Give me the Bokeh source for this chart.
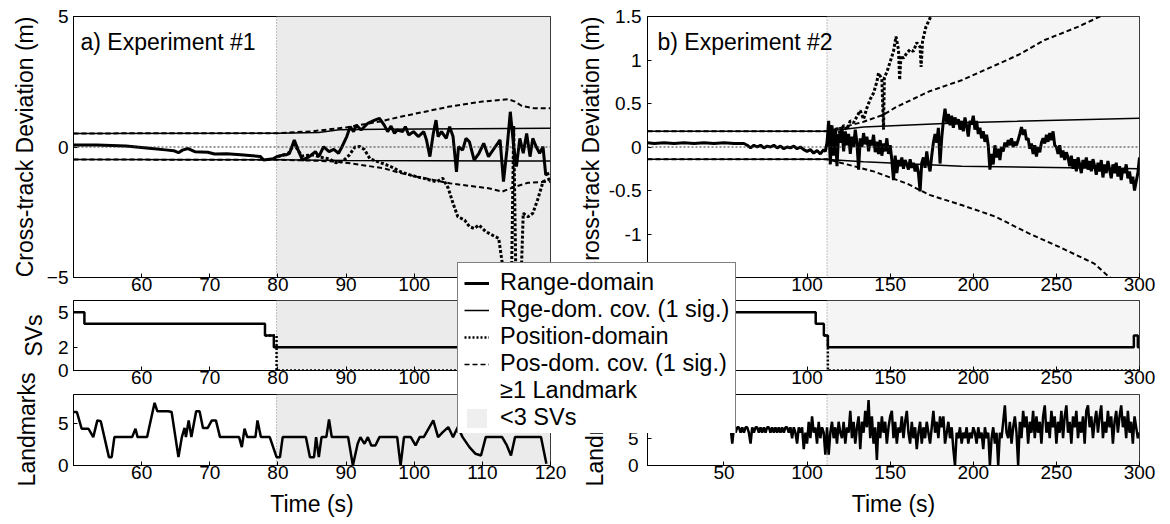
import math
from bokeh.plotting import figure
from bokeh.layouts import row, column
from bokeh.models import (Range1d, FixedTicker, BoxAnnotation, Span, Label,
                          Legend, LegendItem, ColumnDataSource)
from bokeh.embed import file_html
from bokeh.resources import INLINE

FONT = "Liberation Sans"

# ============================ DATA ============================
# ---------------- Experiment #1 (panel a) ----------------
a_xlim = (50, 120)
a_xticks = [60, 70, 80, 90, 100, 110, 120]
a_lowsv_start = 79.8

a_range_t = [50.0, 53.4, 57.7, 61.1, 63.5, 64.7, 65.4, 66.0, 66.8, 67.8, 69.7, 70.7, 72.5, 74.5,
             77.4, 77.9, 79.3, 79.8, 80.7, 81.2, 81.7, 82.4, 83.1, 83.6, 84.6, 85.5, 86.0, 86.7,
             87.5, 88.2, 88.9, 89.4, 90.1, 90.6, 91.1, 91.5, 92.2, 93.2, 94.2, 94.9, 95.6, 96.1,
             96.6, 97.1, 97.5, 98.3, 98.7, 99.2, 99.9, 100.6, 101.4, 101.8, 102.3, 102.8, 103.2,
             103.5, 104.0, 104.7, 105.2, 105.7, 106.2, 106.5, 107.1, 107.6, 108.1, 108.8, 109.5,
             110.2, 110.9, 111.9, 112.6, 113.1, 113.6, 114.1, 114.6, 115.0, 115.5, 116.0, 116.5,
             117.0, 117.4, 117.9, 118.4, 118.9, 119.3, 119.8]
a_range_v = [0.08, 0.08, 0.04, -0.05, -0.11, -0.14, -0.22, -0.12, -0.06, -0.18, -0.20, -0.27, -0.26, -0.30,
             -0.36, -0.50, -0.45, -0.37, -0.31, -0.30, -0.24, 0.27, -0.20, -0.50, -0.37, -0.18, -0.37, 0.01,
             -0.18, -0.09, -0.24, 0.01, 0.40, 0.78, 0.59, 0.84, 0.65, 0.91, 1.03, 1.10, 0.84, 0.59,
             0.80, 0.52, 0.65, 0.59, 0.78, 0.46, 0.59, 0.40, 0.59, 0.27, -0.37, 0.52, 1.03,
             0.40, 0.59, 0.33, 0.78, 0.40, -0.95, 0.01, -0.12, 0.33, 0.20, -0.50, -0.24,
             0.14, -0.37, 0.01, 0.27, -1.33, -0.12, 1.35, 0.01, -0.75, 0.33, -0.24, 0.52,
             -0.37, 0.33, 0.01, -0.24, 0.01, -1.07, -1.00]

a_pos_t = [80.0, 81.5, 82.4, 83.5, 85.0, 86.5, 87.5, 88.5, 89.5, 90.5, 91.3, 92.0, 92.7, 93.5, 94.5,
           95.6, 97.0, 98.0, 99.4, 100.5, 101.4, 102.5, 103.3, 104.2, 105.0, 105.7, 106.4, 107.4,
           108.1, 108.8, 109.5, 110.5, 111.4, 112.4, 113.0, 113.4, 114.2, 114.6, 115.0, 115.5,
           116.0, 116.7, 117.4, 118.1, 118.9, 119.6, 120.0]
a_pos_v = [-0.37, -0.25, 0.10, -0.35, -0.30, -0.40, -0.45, -0.60, -0.55, -0.30, 0.00, 0.02, -0.10, -0.45, -0.55,
           -0.65, -0.80, -0.95, -1.07, -1.15, -1.20, -1.28, -1.33, -1.20, -1.58, -2.16, -2.67, -2.80,
           -3.05, -3.12, -2.99, -3.24, -3.37, -3.50, -4.60, -6.50, -6.50, 0.80, -6.50, -6.50,
           -2.54, -2.67, -2.54, -2.03, -1.33, -1.26, -1.20]

a_pcov_up_t = [50, 80, 85, 90, 95, 98, 100.4, 105.2, 110, 113.8, 114.8, 115.8, 117.7, 120]
a_pcov_up_v = [0.52, 0.53, 0.60, 0.75, 0.98, 1.16, 1.29, 1.55, 1.74, 1.83, 1.74, 1.57, 1.48, 1.48]
a_pcov_lo_t = [50, 80, 85, 88.4, 90.8, 95.6, 98, 100.4, 102.8, 105.2, 108.1, 110.9, 112.9, 114.8, 116.7, 119.6, 120]
a_pcov_lo_v = [-0.48, -0.49, -0.52, -0.56, -0.63, -0.82, -1.00, -1.14, -1.26, -1.39, -1.49, -1.58, -1.71, -1.52, -1.37, -1.33, -1.33]
a_rcov_up_t = [50, 80, 86, 89, 95, 120]
a_rcov_up_v = [0.52, 0.53, 0.56, 0.66, 0.68, 0.72]
a_rcov_lo_t = [50, 80, 90, 120]
a_rcov_lo_v = [-0.48, -0.49, -0.52, -0.54]

a_sv_t = [50, 51.6, 78.1, 79.4, 120]
a_sv_v = [5, 4, 3, 2, 2]
a_svpos_t = [78.1, 79.8, 120]
a_svpos_v = [3, 0, 0]

a_lm_t = [50.0, 50.5, 51.2, 52.2, 52.9, 53.5, 54.0, 55.2, 55.6, 56.0, 58.6, 59.1, 59.4, 60.8, 61.9,
          62.3, 63.9, 64.4, 65.4, 65.9, 66.3, 66.5, 66.9, 67.3, 68.0, 68.5, 69.0, 69.7, 70.3, 70.9,
          71.5, 74.3, 74.7, 75.1, 75.5, 76.7, 77.0, 77.5, 78.8, 79.8, 80.3, 80.7, 84.1, 84.7, 85.3,
          85.6, 86.0, 86.4, 87.1, 87.5, 87.9, 90.3, 91.0, 91.7, 92.1, 92.7, 93.2, 93.7, 94.3, 94.9,
          97.5, 98.0, 98.5, 99.5, 100.2, 100.8, 101.4, 102.8, 103.5, 104.2, 105.0, 105.7, 106.4,
          107.1, 108.1, 109.0, 109.8, 110.5, 112.9, 113.6, 114.2, 114.8, 117.9, 118.6, 119.4]
a_lm_v = [6.4, 6.4, 4.4, 4.4, 3.4, 5.4, 5.3, 1.0, 1.0, 3.4, 3.4, 4.4, 3.4, 3.4, 7.5,
          6.5, 6.5, 6.4, 1.0, 3.4, 4.5, 3.4, 5.4, 3.4, 6.5, 6.5, 4.5, 4.5, 5.4, 5.4,
          3.4, 3.4, 2.2, 4.4, 3.4, 3.4, 5.4, 3.4, 3.4, 1.0, 1.0, 3.4, 3.4, 1.0, 1.0,
          3.4, 1.0, 3.4, 3.4, 5.5, 3.4, 3.4, 0.0, 2.6, 3.4, 2.6, 3.4, 2.4, 2.4, 3.4,
          3.4, 0.0, 3.4, 3.4, 2.4, 3.4, 3.4, 5.4, 3.4, 4.0, 4.6, 3.4, 4.6,
          3.4, 2.2, 1.4, 1.2, 3.4, 3.4, 2.4, 1.2, 3.4, 3.4, 3.4, 0.2]

# ---------------- Experiment #2 (panel b) ----------------
b_xlim = (4, 300)
b_xticks = [50, 100, 150, 200, 250, 300]
b_lowsv_start = 112.0

b_range_t = [4, 8, 14, 20, 26, 32, 38, 44, 50, 56, 62, 64, 66, 68, 70, 72, 74, 76, 78, 80, 82, 84,
             86, 88, 90, 92, 94, 96, 98, 100, 102, 104, 106, 108, 110] + list(range(111, 301))
b_range_v = [0.05, 0.04, 0.05, 0.04, 0.05, 0.04, 0.05, 0.04, 0.05, 0.04, 0.04, 0.02, -0.01, 0.02, 0.00,
             0.02, -0.01, 0.01, 0.00, 0.02, -0.01, 0.01, -0.02, 0.00, -0.01, 0.01, -0.02, 0.00, -0.03,
             -0.05, -0.03, -0.07, -0.04, -0.08, -0.03,
             -0.05, 0.05, 0.30, -0.20, 0.25, -0.10, 0.20, -0.22, 0.15, 0.05,
             0.22, -0.05, 0.18, 0.02, 0.15, -0.08, 0.12, 0.00, 0.20, 0.05,
             -0.26, 0.10, 0.00, 0.16, 0.03, 0.12, -0.05, 0.08, 0.02, 0.14,
             -0.06, 0.06, -0.08, 0.08, -0.10, 0.04, -0.05, 0.10, -0.08, 0.02,
             -0.15, -0.38, -0.10, -0.30, -0.15, -0.22, -0.12, -0.25, -0.15, -0.20,
             -0.26, -0.14, -0.24, -0.18, -0.28, -0.20, -0.30, -0.51, -0.18, -0.12,
             -0.24, -0.05, -0.20, -0.28, -0.10, 0.05, 0.15, 0.05, 0.22, -0.19,
             0.10, 0.30, 0.44, 0.28, 0.38, 0.25, 0.36, 0.22, 0.34, 0.26,
             0.32, 0.20, 0.30, 0.18, 0.34, 0.24, 0.12, 0.30, 0.26, 0.36,
             0.20, 0.30, 0.15, 0.22, 0.10, 0.18, 0.06, 0.14, 0.02, -0.26,
             -0.08, -0.20, 0.02, -0.12, -0.02, -0.15, 0.00, -0.05, 0.05, 0.00,
             0.08, 0.02, 0.10, 0.00, 0.06, 0.02, 0.08, 0.15, 0.23, 0.14,
             0.20, 0.08, 0.10, -0.02, 0.04, -0.08, 0.02, -0.11, 0.00, -0.06,
             0.05, 0.10, 0.04, 0.14, 0.06, 0.16, 0.08, 0.18, 0.02, 0.00,
             -0.08, 0.02, -0.12, -0.04, -0.15, -0.06, -0.12, -0.22, -0.10, -0.25,
             -0.14, -0.28, -0.12, -0.20, -0.30, -0.15, -0.24, -0.12, -0.26, -0.16,
             -0.28, -0.14, -0.22, -0.32, -0.18, -0.28, -0.15, -0.35, -0.20, -0.30,
             -0.16, -0.26, -0.36, -0.20, -0.30, -0.18, -0.34, -0.22, -0.38, -0.24,
             -0.30, -0.20, -0.36, -0.28, -0.42, -0.34, -0.50, -0.40, -0.30, -0.12]

b_pos_t = [112, 114, 116, 118, 120, 122, 124, 126, 128, 130, 132, 134, 136, 138, 140,
           142, 143, 145, 146, 146.5, 148, 150, 152, 153.5, 155, 155.7, 156.5, 158, 160, 162,
           164, 166, 168, 168.6, 169.5, 171.5, 173.5, 175.5, 178, 185, 200, 250, 300]
b_pos_v = [0.00, 0.25, 0.10, 0.22, 0.15, 0.25, 0.20, 0.30, 0.28, 0.35, 0.42, 0.32, 0.45, 0.55, 0.62,
           0.75, 0.85, 0.78, 0.20, 0.80, 0.86, 0.98, 1.10, 1.27, 1.12, 0.77, 1.05, 1.02, 1.08, 1.12,
           1.10, 1.20, 1.15, 0.92, 1.22, 1.38, 1.46, 1.55, 1.70, 2.00, 2.50, 3.50, 4.50]

b_pcov_up_t = [4, 112, 120, 134, 145.8, 153.7, 173.6, 193.4, 213.3, 227.2, 243, 262.9, 280.7, 300]
b_pcov_up_v = [0.18, 0.18, 0.22, 0.29, 0.37, 0.46, 0.64, 0.77, 0.94, 1.06, 1.23, 1.38, 1.54, 1.70]
b_pcov_lo_t = [4, 112, 120, 130, 140, 150, 160, 173.6, 193.4, 213.3, 233.1, 253, 272.8, 282, 300]
b_pcov_lo_v = [-0.14, -0.14, -0.18, -0.23, -0.28, -0.35, -0.42, -0.55, -0.67, -0.80, -0.99, -1.16, -1.34, -1.50, -1.65]
b_rcov_up_t = [4, 112, 134, 193, 300]
b_rcov_up_v = [0.18, 0.18, 0.23, 0.28, 0.33]
b_rcov_lo_t = [4, 110, 134, 193, 300]
b_rcov_lo_v = [-0.14, -0.14, -0.17, -0.22, -0.25]

b_sv_t = [4, 105.2, 110.1, 112.5, 296.6, 299.0, 300]
b_sv_v = [5, 4, 3, 2, 3, 2, 2]
b_svpos_t = [110.1, 112.5, 300]
b_svpos_v = [3, 0, 0]

b_lm_t = list(range(39, 301))
b_lm_v = [7, 6, 7, 7, 6, 7, 6, 7, 7, 6,
          7, 6, 7, 6, 7, 7, 4, 7, 6, 7,
          7, 6, 7, 6, 7, 7, 6, 4, 7, 6,
          7, 7, 6, 7, 6, 7, 6, 7, 7, 6,
          7, 6, 7, 6, 7, 6, 7, 6, 7, 7,
          6, 7, 5, 7, 6, 4, 7, 6, 7, 3,
          6, 4,
          8, 5, 9, 6, 7, 4, 8, 5, 7, 6,
          2, 7, 2, 6, 8, 5, 7, 4, 8, 6,
          5, 8, 4, 7, 6, 10, 5, 8, 4, 7,
          9, 3, 8, 6, 10, 7, 12, 5, 9, 4,
          7, 1, 8, 5, 9, 6, 8, 4, 7, 9,
          10, 5, 8, 4, 7, 6, 9, 5, 8, 10,
          6, 4, 8, 5, 7, 3, 6, 8, 4, 7,
          5, 8, 6, 4, 7, 10, 6, 8, 5, 9,
          7, 9, 4, 6, 8, 5, 7, 3, 0, 6,
          5, 7, 4, 6, 5, 7, 4, 6, 5, 7,
          6, 4, 7, 5, 6, 3, 7, 5, 6, 0,
          5, 7, 4, 6, 0, 6, 5, 8, 11, 6,
          5, 8, 4, 7, 9, 6, 0, 8, 5, 10,
          7, 9, 4, 8, 6, 10, 5, 9, 6, 8,
          4, 9, 11, 6, 8, 5, 10, 7, 9, 4,
          8, 6, 10, 5, 9, 11, 6, 8, 4, 9,
          7, 10, 5, 8, 6, 9, 4, 10, 11, 7,
          9, 5, 8, 10, 6, 9, 11, 5, 8, 6,
          10, 7, 9, 4, 8, 10, 6, 9, 11, 7,
          9, 5, 10, 6, 8, 4, 9, 7, 5, 6]

legend_labels = ["Range-domain", "Rge-dom. cov. (1 sig.)", "Position-domain",
                 "Pos-dom. cov. (1 sig.)", "\u22651 Landmark", "<3 SVs"]

# ============================ STYLE ============================
SHADE_A = "#ebebeb"
SHADE_B = "#f5f5f5"
TICK_FS = "19px"
LABEL_FS = "23px"


def make_fig(xlim, ylim, w, h, bl, br, bt, bb, xticks, yticks, ylabel,
             ylab_std, ytick_std, xlabel=None, overrides=None):
    p = figure(width=w, height=h, x_range=Range1d(*xlim), y_range=Range1d(*ylim),
               output_backend="svg", toolbar_location=None,
               min_border_left=bl, min_border_right=br,
               min_border_top=bt, min_border_bottom=bb)
    p.grid.visible = False
    p.outline_line_color = "black"
    p.outline_line_width = 1
    p.outline_line_alpha = 1
    p.background_fill_color = "white"
    p.border_fill_color = "white"
    for ax in (p.xaxis[0], p.yaxis[0]):
        ax.major_tick_in = 4
        ax.major_tick_out = 0
        ax.minor_tick_in = 0
        ax.minor_tick_out = 0
        ax.axis_line_color = "black"
        ax.major_tick_line_color = "black"
        ax.major_label_text_font = FONT
        ax.major_label_text_font_size = TICK_FS
        ax.major_label_text_color = "black"
        ax.axis_label_text_font = FONT
        ax.axis_label_text_font_size = LABEL_FS
        ax.axis_label_text_font_style = "normal"
        ax.axis_label_text_color = "black"
    p.xaxis.ticker = FixedTicker(ticks=xticks)
    p.yaxis.ticker = FixedTicker(ticks=yticks)
    p.xaxis.major_label_standoff = 0
    p.yaxis.major_label_standoff = ytick_std
    if ylabel:
        p.yaxis.axis_label = ylabel
        p.yaxis.axis_label_standoff = ylab_std
    if overrides:
        p.yaxis.major_label_overrides = overrides
    if xlabel:
        p.xaxis.axis_label = xlabel
        p.xaxis.axis_label_standoff = 9
    return p


def shade(p, start, color):
    p.add_layout(BoxAnnotation(left=start, fill_color=color, fill_alpha=1,
                               line_color=None, level="underlay"))
    p.add_layout(Span(location=start, dimension="height", line_color="#8a8a8a",
                      line_width=1, line_dash="1 2", level="underlay"))


def zero_line(p):
    p.add_layout(Span(location=0, dimension="width", line_color="#303030",
                      line_width=1, line_dash="2 2"))


LW, RW = 566, 586          # column widths
H_TOP, H_SV, H_LM = 299, 94, 129
MAIN_H = H_TOP + H_SV + H_LM
PAGE_W = 8 + LW + RW

# ---------------- left column ----------------
pa = make_fig(a_xlim, (-5, 5), LW, H_TOP, 55, 24, 16, 22, a_xticks, [-5, 0, 5],
              "Cross-track Deviation (m)", 6, 5)
shade(pa, a_lowsv_start, SHADE_A)
zero_line(pa)
pa.line(a_rcov_up_t, a_rcov_up_v, line_width=1.5, color="black")
pa.line(a_rcov_lo_t, a_rcov_lo_v, line_width=1.5, color="black")
pa.line(a_pcov_up_t, a_pcov_up_v, line_width=2, color="black", line_dash="5 3")
pa.line(a_pcov_lo_t, a_pcov_lo_v, line_width=2, color="black", line_dash="5 3")
pa.line(a_pos_t, a_pos_v, line_width=3, color="black", line_dash="3 2")
pa.line(a_range_t, a_range_v, line_width=3, color="black")
pa.add_layout(Label(x=7, y=236, x_units="screen", y_units="screen", text="a) Experiment #1",
                    text_font=FONT, text_font_size=LABEL_FS, text_color="black",
                    text_baseline="alphabetic"))

pa_sv = make_fig(a_xlim, (0, 6), LW, H_SV, 55, 24, 1, 23, a_xticks, [0, 2, 5], "SVs", 8, 5)
shade(pa_sv, a_lowsv_start, SHADE_A)
pa_sv.step(a_svpos_t, a_svpos_v, mode="after", line_width=2.5, color="black", line_dash="2 2")
pa_sv.step(a_sv_t, a_sv_v, mode="after", line_width=2.5, color="black")

pa_lm = make_fig(a_xlim, (0, 8.5), LW, H_LM, 55, 24, 1, 57, a_xticks, [0, 5], None, 8, 5,
                 xlabel="Time (s)")
shade(pa_lm, a_lowsv_start, SHADE_A)
pa_lm.line(a_lm_t, a_lm_v, line_width=2.5, color="black")

# ---------------- right column ----------------
b_over = {1.5: "1.5", 1: "1", 0.5: "0.5", 0: "0", -0.5: "-0.5", -1: "-1", -1.5: "-1.5"}
pb = make_fig(b_xlim, (-1.5, 1.5), RW, H_TOP, 68, 21, 16, 22, b_xticks,
              [-1.5, -1, -0.5, 0, 0.5, 1, 1.5], "Cross-track Deviation (m)", 2, 6, overrides=b_over)
shade(pb, b_lowsv_start, SHADE_B)
zero_line(pb)
pb.line(b_rcov_up_t, b_rcov_up_v, line_width=1.5, color="black")
pb.line(b_rcov_lo_t, b_rcov_lo_v, line_width=1.5, color="black")
pb.line(b_pcov_up_t, b_pcov_up_v, line_width=2, color="black", line_dash="5 3")
pb.line(b_pcov_lo_t, b_pcov_lo_v, line_width=2, color="black", line_dash="5 3")
pb.line(b_pos_t, b_pos_v, line_width=3, color="black", line_dash="3 2")
pb.line(b_range_t, b_range_v, line_width=3, color="black")
pb.add_layout(Label(x=10, y=236, x_units="screen", y_units="screen", text="b) Experiment #2",
                    text_font=FONT, text_font_size=LABEL_FS, text_color="black",
                    text_baseline="alphabetic"))

pb_sv = make_fig(b_xlim, (0, 6), RW, H_SV, 68, 21, 1, 23, b_xticks, [0, 2, 5], "SVs", 8, 6)
shade(pb_sv, b_lowsv_start, SHADE_B)
pb_sv.step(b_svpos_t, b_svpos_v, mode="after", line_width=2.5, color="black", line_dash="2 2")
pb_sv.step(b_sv_t, b_sv_v, mode="after", line_width=2.5, color="black")

pb_lm = make_fig(b_xlim, (0, 13), RW, H_LM, 68, 21, 1, 57, b_xticks, [0, 5], None, 16, 9,
                 xlabel="Time (s)")
shade(pb_lm, b_lowsv_start, SHADE_B)
pb_lm.line(b_lm_t, b_lm_v, line_width=2.5, color="black")

left = column(pa, pa_sv, pa_lm, spacing=0)
right = column(pb, pb_sv, pb_lm, spacing=0)
main = row(left, right, spacing=0, margin=(0, 0, 0, 8))

# ---------------- transparent overlay for texts spanning panels ----------------
ov = figure(width=PAGE_W, height=MAIN_H, x_range=Range1d(0, PAGE_W), y_range=Range1d(MAIN_H, 0),
            output_backend="svg", toolbar_location=None, min_border=0,
            x_axis_location=None, y_axis_location=None, margin=(-MAIN_H, 0, 0, 0))
ov.grid.visible = False
ov.outline_line_color = None
ov.background_fill_color = None
ov.border_fill_color = None
for lx in (26, 594):
    ov.add_layout(Label(x=lx, y=429, text="Landmarks", angle=math.pi / 2,
                        text_align="center", text_baseline="middle",
                        text_font=FONT, text_font_size=LABEL_FS, text_color="black"))

# ---------------- legend overlay ----------------
lf = figure(width=292, height=172, x_range=Range1d(0, 1), y_range=Range1d(0, 1),
            output_backend="svg", toolbar_location=None, min_border=0,
            x_axis_location=None, y_axis_location=None,
            margin=(261 - MAIN_H, 0, 0, 456))
lf.grid.visible = False
lf.outline_line_color = None
lf.background_fill_color = None
lf.border_fill_color = None
dummy_line = ColumnDataSource(data=dict(x=[5, 6], y=[5, 5]))
dummy_box = ColumnDataSource(data=dict(l=[5], r=[6], t=[6], b=[5]))
r1 = lf.line("x", "y", source=dummy_line, line_width=3, color="black")
r2 = lf.line("x", "y", source=dummy_line, line_width=1.5, color="black")
r3 = lf.line("x", "y", source=dummy_line, line_width=2.5, color="black", line_dash="2 2")
r4 = lf.line("x", "y", source=dummy_line, line_width=1.5, color="black", line_dash="5 3")
r5 = lf.quad(left="l", right="r", top="t", bottom="b", source=dummy_box,
             fill_color="white", line_color=None)
r6 = lf.quad(left="l", right="r", top="t", bottom="b", source=dummy_box,
             fill_color="#efefef", line_color=None)
leg = Legend(items=[LegendItem(label=lab, renderers=[r]) for lab, r in
                    zip(legend_labels, [r1, r2, r3, r4, r5, r6])],
             location="top_left", margin=1, padding=6, spacing=-2,
             glyph_width=25, glyph_height=24, label_height=24, label_standoff=11,
             label_text_font=FONT, label_text_font_size="23.5px", label_text_color="black",
             label_text_line_height=1.0,
             border_line_color="black", border_line_width=1.5,
             background_fill_color="white", background_fill_alpha=1)
lf.add_layout(leg)

root = column(main, ov, lf, spacing=0)
open("out.html", "w").write(file_html(root, INLINE))
